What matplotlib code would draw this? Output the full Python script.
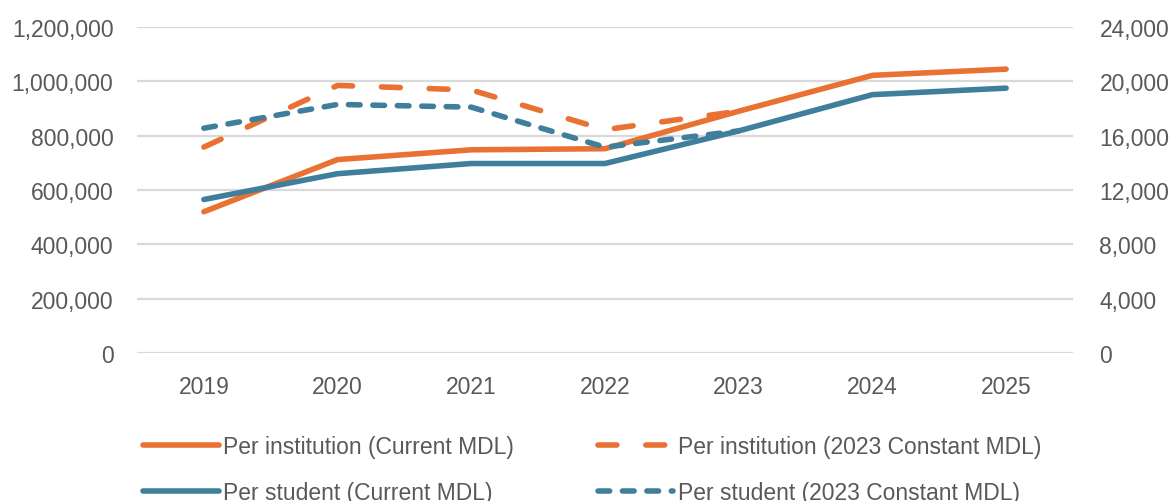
import matplotlib.pyplot as plt
from matplotlib.ticker import FuncFormatter

years = ['2019', '2020', '2021', '2022', '2023', '2024', '2025']
inst_current = [520000, 712000, 748000, 752000, 890000, 1022000, 1045000]
student_current = [11300, 13200, 13950, 13950, 16350, 19020, 19500]
# constant-price series only run to the 2023 base year
inst_const = [758000, 985000, 968000, 822000, 890000]
student_const = [16550, 18300, 18100, 15150, 16350]

left_ticks = [0, 200000, 400000, 600000, 800000, 1000000, 1200000]
right_ticks = [0, 4000, 8000, 12000, 16000, 20000, 24000]

orange = '#E97132'
blue = '#3F7F9C'
grey = '#595959'
lw = 4.0

plt.rcParams['font.family'] = ['Liberation Sans', 'DejaVu Sans']

fig = plt.figure(figsize=(11.72, 5.02), dpi=100)
ax = fig.add_axes([137 / 1172, 1 - 354 / 502, (1073 - 137) / 1172, (354 - 28) / 502])
ax2 = ax.twinx()

x = list(range(len(years)))
xc = x[:len(inst_const)]

style = dict(lw=lw, solid_capstyle='round', dash_capstyle='round', solid_joinstyle='round')
l1, = ax.plot(x, inst_current, color=orange, **style)
l2, = ax.plot(xc, inst_const, color=orange, dashes=(3.4, 5.2), **style)
l3, = ax2.plot(x, student_current, color=blue, **style)
l4, = ax2.plot(xc, student_const, color=blue, dashes=(2.1, 2.3), **style)

ax.set_xlim(-0.5, 6.5)
ax.set_ylim(0, 1200000)
ax2.set_ylim(0, 24000)
ax.set_xticks(x)
ax.set_xticklabels(years)
ax.set_yticks(left_ticks)
ax2.set_yticks(right_ticks)
fmt = FuncFormatter(lambda v, p: f'{int(v):,}')
ax.yaxis.set_major_formatter(fmt)
ax2.yaxis.set_major_formatter(fmt)

ax.grid(axis='y', color='#D9D9D9', lw=1.6)
ax.set_axisbelow(True)
for a in (ax, ax2):
    for s in a.spines.values():
        s.set_visible(False)
    a.tick_params(length=0, labelsize=16.5, colors=grey)
ax.tick_params(axis='y', pad=17)
ax.tick_params(axis='x', pad=16)
ax2.tick_params(axis='y', pad=19)

handles = [l1, l3, l2, l4]
labels = ['Per institution (Current MDL)', 'Per student (Current MDL)',
          'Per institution (2023 Constant MDL)', 'Per student (2023 Constant MDL)']
leg = fig.legend(handles, labels, ncol=2, loc='upper left',
                 bbox_to_anchor=(143 / 1172, 1 - 436 / 502), frameon=False,
                 borderpad=0, borderaxespad=0, handlelength=3.3, handletextpad=0.2,
                 labelspacing=1.0, columnspacing=3.65,
                 prop={'size': 16.5})
for t in leg.get_texts():
    t.set_color(grey)

fig.savefig('out.png', dpi=100)
